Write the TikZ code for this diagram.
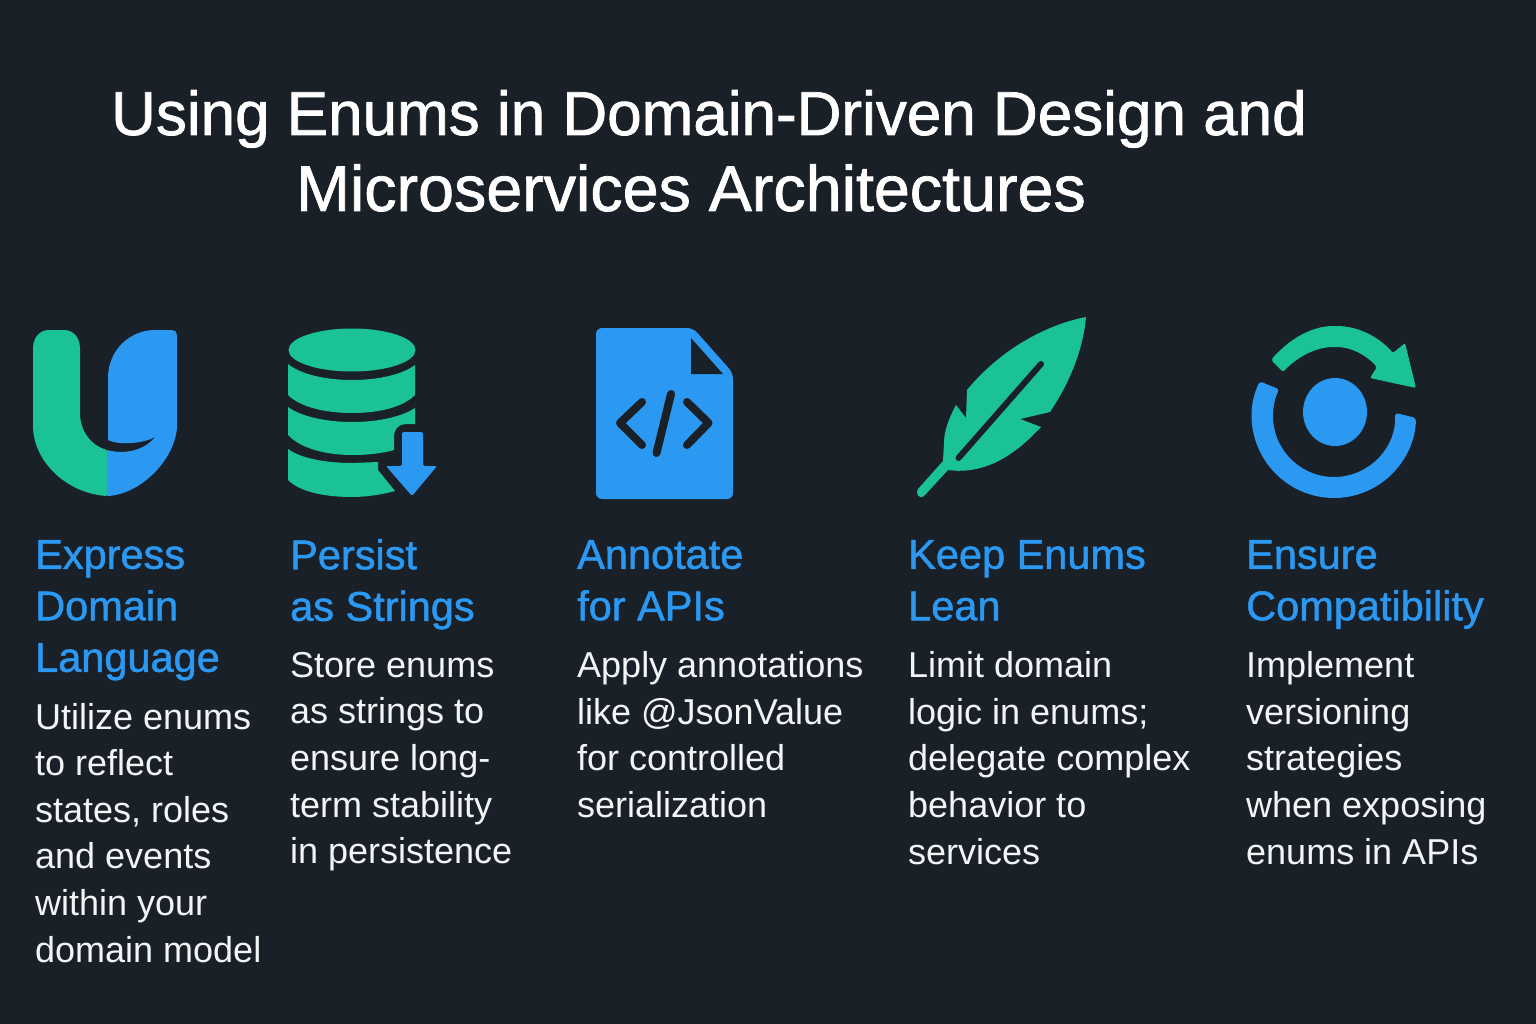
\documentclass[tikz,border=0pt]{standalone}
\usepackage{fontspec}
\setmainfont{Liberation Sans}
\newfontfamily\medfont[FakeBold=1.2]{Liberation Sans}
\usetikzlibrary{positioning}
\definecolor{bgdark}{HTML}{1A2028}
\definecolor{iconblue}{HTML}{2B98F2}
\definecolor{icongreen}{HTML}{1BC296}
\definecolor{bodywhite}{HTML}{F2F4F6}
\tikzset{x=1pt, y=-1pt, % Coordinates are pixels of the picture
titletext/.style={ % The two title lines
inner sep=0pt, anchor=base, text=white,
font=\medfont\fontsize{62}{72}\selectfont},
headtext/.style={ % Blue column headings
inner sep=0pt, anchor=north west, align=left, text=iconblue,
font=\medfont\fontsize{41.5}{51.5}\selectfont\strut},
bodytext/.style={ % Text under each heading
inner sep=0pt, anchor=north west, align=left, text=bodywhite,
font=\fontsize{36}{46.6}\selectfont\strut},
node distance=0pt,
codeline/.style={ % Marks cut out of the icons
draw=bgdark, line width=8pt, line cap=round, line join=round},
}

\begin{document}
\begin{tikzpicture}

    \fill[bgdark, use as bounding box] (0,0) rectangle (1536,1024);

    \node[titletext] (title1) at (709,135) {Using Enums in Domain-Driven Design and};
    \node[titletext, font=\medfont\fontsize{64.6}{72}\selectfont] (title2) at (691,211) {Microservices Architectures};

    % U icon
    \fill[icongreen, rounded corners=1pt] (107,496) .. controls (65,493) and (33,460) .. (33,425) -- (33,350) .. controls (33,337) and (40,330) .. (50,330) -- (63,330) .. controls (73,330) and (80,337) .. (80,350) -- (80,412) .. controls (80,430) and (90,445) .. (107,450) -- cycle;
    \fill[iconblue] (107,496) -- (107,450) .. controls (125,455) and (145,450) .. (155,437) .. controls (145,443) and (120,446) .. (108,440) -- (108,378) .. controls (108,350) and (130,330) .. (155,330) -- (172,330) .. controls (175,330) and (177,332) .. (177,335) -- (177,427) .. controls (175,460) and (140,495) .. (107,496) -- cycle;

    % Database icon
    \fill[icongreen] (352,350) ellipse [x radius=63.5pt, y radius=21.5pt];
    \fill[icongreen] (288,364) .. controls (300,374) and (325,380) .. (352,380) .. controls (380,380) and (403,374) .. (415,365) -- (415,395) .. controls (403,407) and (380,413) .. (352,413) .. controls (325,413) and (300,407) .. (288,395) -- cycle;
    \fill[icongreen] (288,407) .. controls (300,416) and (325,422) .. (352,422) .. controls (380,422) and (403,416) .. (415,408) -- (415,424) -- (406,424) .. controls (399,424) and (394,429) .. (394,436) -- (394,450) .. controls (380,454) and (365,455) .. (352,455) .. controls (325,455) and (300,448) .. (288,435) -- cycle;
    \fill[icongreen] (288,449) .. controls (300,458) and (325,463) .. (352,463) -- (378,462) -- (378,470) -- (395,491) .. controls (380,495) and (365,497) .. (352,497) .. controls (325,497) and (300,492) .. (288,480) -- cycle;
    \fill[iconblue, rounded corners=2pt] (402,432) -- (423,432) -- (423,466) -- (437,466) -- (412,496) -- (386,466) -- (402,466) -- cycle;

    % Document icon
    \fill[iconblue, rounded corners=6pt] (596,328) -- (693,328) -- (733,373) -- (733,499) -- (596,499) -- cycle;
    \fill[bgdark] (691,338) -- (691,374) -- (723,374) -- cycle;
    \draw[codeline] (642,402) -- (620,423) -- (642,445);
    \draw[codeline] (671,394) -- (656.5,453);
    \draw[codeline] (687,402) -- (708.5,423) -- (687,445);

    % Feather icon
    \fill[icongreen] (1086,317) .. controls (1045,325) and (1000,350) .. (967,390) -- (966,418) -- (956,405) .. controls (948,420) and (944,432) .. (944,443) -- (943,461) -- (918,489) .. controls (915,493) and (919,500) .. (924,496) -- (948,470) .. controls (985,475) and (1015,455) .. (1041,427) -- (1020,419) -- (1050,412) .. controls (1070,382) and (1083,350) .. cycle;
    \draw[codeline, line width=6pt] (1041,364) -- (958.5,458);

    % Refresh icon
    \fill[iconblue] (1335,412) ellipse [x radius=32pt, y radius=34pt];
    \begin{scope}[shift={(1334,416)}]
        \fill[iconblue, rounded corners=3pt] (155:82pt) arc[start angle=155, end angle=358.6, radius=82pt] -- (3:61pt) arc[start angle=363, end angle=154, radius=61pt] -- cycle;
    \end{scope}
    \fill[icongreen, rounded corners=2pt] (1271,360) .. controls (1290,338) and (1313,326) .. (1335,326) .. controls (1357,326) and (1378,336) .. (1393,353) -- (1405,343) -- (1416,388) -- (1370,378) -- (1377,367) .. controls (1365,354) and (1350,347) .. (1335,347) .. controls (1317,347) and (1298,356) .. (1283,372) -- cycle;

    % Columns
    \node[headtext] (head1) at (35,540) {Express\\Domain\\Language};
    \node[bodytext, below=15.5pt of head1.south west, anchor=north west] (body1) {Utilize enums\\to reflect\\states, roles\\and events\\within your\\domain model};

    \node[headtext] (head2) at (290,539) {Persist\\as Strings};
    \node[bodytext, below=15.5pt of head2.south west, anchor=north west] (body2) {Store enums\\as strings to\\ensure long-\\term stability\\in persistence};

    \node[headtext] (head3) at (577,540) {Annotate\\for APIs};
    \node[bodytext, below=15.5pt of head3.south west, anchor=north west] (body3) {Apply annotations\\like @JsonValue\\for controlled\\serialization};

    \node[headtext] (head4) at (908,540) {Keep Enums\\Lean};
    \node[bodytext, below=15.5pt of head4.south west, anchor=north west] (body4) {Limit domain\\logic in enums;\\delegate complex\\behavior to\\services};

    \node[headtext] (head5) at (1246,540) {Ensure\\Compatibility};
    \node[bodytext, below=15.5pt of head5.south west, anchor=north west] (body5) {Implement\\versioning\\strategies\\when exposing\\enums in APIs};

\end{tikzpicture}
\end{document}
